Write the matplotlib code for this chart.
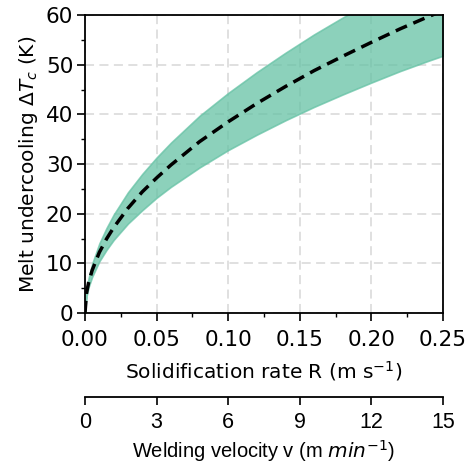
import matplotlib
matplotlib.use("Agg")
import matplotlib.pyplot as plt
from matplotlib.ticker import MultipleLocator, FormatStrFormatter

# Data
R = [0, 0.001, 0.0025, 0.005, 0.01, 0.015, 0.02, 0.03, 0.04, 0.05, 0.06, 0.08,
     0.10, 0.12, 0.14, 0.16, 0.18, 0.20, 0.22, 0.24, 0.25]
dT_mid = [0, 3.9, 6.1, 8.6, 12.2, 14.9, 17.2, 21.1, 24.4, 27.2, 29.8, 34.5,
          38.5, 42.2, 45.6, 48.8, 51.7, 54.5, 57.2, 59.7, 60.9]
dT_low = [0, 3.3, 5.2, 7.3, 10.4, 12.7, 14.7, 18.0, 20.7, 23.2, 25.4, 29.3,
          32.8, 35.9, 38.8, 41.5, 44.0, 46.4, 48.7, 50.8, 51.8]
dT_high = [0, 4.5, 7.0, 9.9, 14.0, 17.1, 19.8, 24.3, 28.0, 31.3, 34.3, 39.7,
           44.3, 48.5, 52.4, 56.1, 59.5, 62.7, 65.8, 68.6, 70.0]
v_ticks = [0, 3, 6, 9, 12, 15]

fig = plt.figure(figsize=(4.69, 4.66), dpi=100)
ax = fig.add_axes([85/469, 1-313/466, 358/469, 298/466])

ax.fill_between(R, dT_low, dT_high, facecolor="#66c2a5", alpha=0.75,
                edgecolor="#66c2a5", linewidth=1.2, zorder=2)
ax.plot(R, dT_mid, color="black", linestyle=(0, (3.5, 2)), linewidth=2.5, zorder=3)

ax.set_xlim(0, 0.25)
ax.set_ylim(0, 60)
ax.xaxis.set_major_locator(MultipleLocator(0.05))
ax.xaxis.set_minor_locator(MultipleLocator(0.025))
ax.xaxis.set_major_formatter(FormatStrFormatter("%.2f"))
ax.yaxis.set_major_locator(MultipleLocator(10))
ax.yaxis.set_minor_locator(MultipleLocator(5))
ax.grid(True, which="major", color="#dddddd", linestyle=(0, (5, 3)), linewidth=1.3, zorder=1)
ax.set_axisbelow(True)
ax.tick_params(which="major", length=5.5, width=1.2, labelsize=15.5, pad=3)
ax.tick_params(axis="x", which="major", pad=6.5)
ax.tick_params(which="minor", length=3, width=1.0)
for s in ax.spines.values():
    s.set_linewidth(1.3)
ax.set_xlabel(r"Solidification rate R (m s$^{-1}$)", fontsize=14.5, labelpad=7)
ax.set_ylabel(r"Melt undercooling $\Delta T_c$ (K)", fontsize=14.5, labelpad=4)

ax2 = ax.twiny()
ax2.set_xlim(0, 15)
ax2.set_xticks(v_ticks)
ax2.xaxis.set_ticks_position("bottom")
ax2.xaxis.set_label_position("bottom")
ax2.spines["bottom"].set_position(("outward", 60.5))
for k in ["top", "left", "right"]:
    ax2.spines[k].set_visible(False)
ax2.spines["bottom"].set_linewidth(1.3)
ax2.tick_params(length=5.5, width=1.2, labelsize=15.5, pad=5)
for lab in ax2.get_xticklabels():
    lab.set_fontfamily("Liberation Sans")
ax2.set_xlabel(r"Welding velocity v (m $min^{-1}$)", fontsize=14.5,
               fontfamily="Liberation Sans", labelpad=4)

fig.savefig("out.png", dpi=100)
